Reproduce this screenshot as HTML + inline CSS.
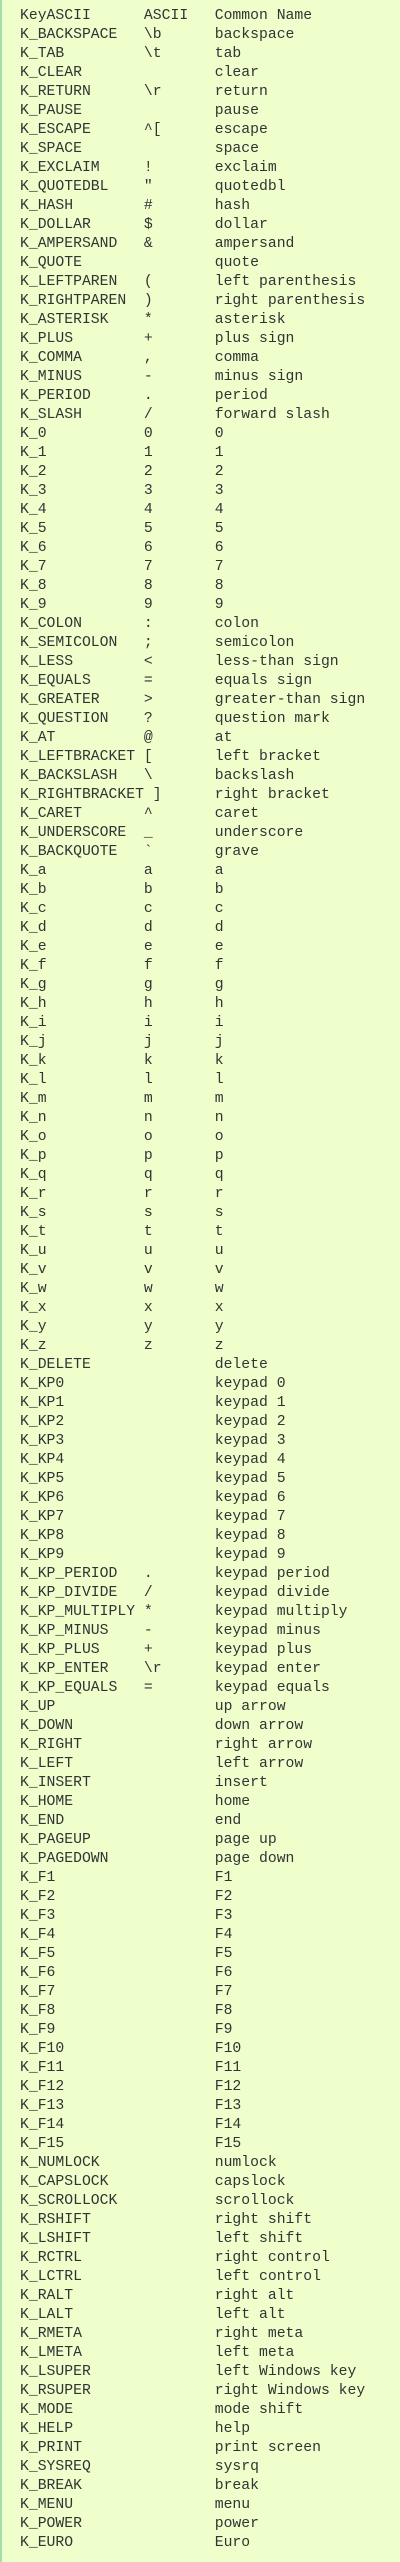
<!DOCTYPE html>
<html><head><meta charset="utf-8"><style>
html,body{margin:0;padding:0;background:#eeffcc;}
body{width:400px;height:2562px;overflow:hidden;position:relative;}
.bar{position:absolute;left:0;top:0;width:2px;height:2562px;background:#a8dca8;}
pre{margin:0;position:absolute;left:20px;top:6.5px;font-family:"Liberation Mono",monospace;font-size:14.75px;line-height:19px;color:#333;}
</style></head><body><div class="bar"></div><pre>KeyASCII      ASCII   Common Name
K_BACKSPACE   \b      backspace
K_TAB         \t      tab
K_CLEAR               clear
K_RETURN      \r      return
K_PAUSE               pause
K_ESCAPE      ^[      escape
K_SPACE               space
K_EXCLAIM     !       exclaim
K_QUOTEDBL    "       quotedbl
K_HASH        #       hash
K_DOLLAR      $       dollar
K_AMPERSAND   &amp;       ampersand
K_QUOTE               quote
K_LEFTPAREN   (       left parenthesis
K_RIGHTPAREN  )       right parenthesis
K_ASTERISK    *       asterisk
K_PLUS        +       plus sign
K_COMMA       ,       comma
K_MINUS       -       minus sign
K_PERIOD      .       period
K_SLASH       /       forward slash
K_0           0       0
K_1           1       1
K_2           2       2
K_3           3       3
K_4           4       4
K_5           5       5
K_6           6       6
K_7           7       7
K_8           8       8
K_9           9       9
K_COLON       :       colon
K_SEMICOLON   ;       semicolon
K_LESS        &lt;       less-than sign
K_EQUALS      =       equals sign
K_GREATER     &gt;       greater-than sign
K_QUESTION    ?       question mark
K_AT          @       at
K_LEFTBRACKET [       left bracket
K_BACKSLASH   \       backslash
K_RIGHTBRACKET ]      right bracket
K_CARET       ^       caret
K_UNDERSCORE  _       underscore
K_BACKQUOTE   `       grave
K_a           a       a
K_b           b       b
K_c           c       c
K_d           d       d
K_e           e       e
K_f           f       f
K_g           g       g
K_h           h       h
K_i           i       i
K_j           j       j
K_k           k       k
K_l           l       l
K_m           m       m
K_n           n       n
K_o           o       o
K_p           p       p
K_q           q       q
K_r           r       r
K_s           s       s
K_t           t       t
K_u           u       u
K_v           v       v
K_w           w       w
K_x           x       x
K_y           y       y
K_z           z       z
K_DELETE              delete
K_KP0                 keypad 0
K_KP1                 keypad 1
K_KP2                 keypad 2
K_KP3                 keypad 3
K_KP4                 keypad 4
K_KP5                 keypad 5
K_KP6                 keypad 6
K_KP7                 keypad 7
K_KP8                 keypad 8
K_KP9                 keypad 9
K_KP_PERIOD   .       keypad period
K_KP_DIVIDE   /       keypad divide
K_KP_MULTIPLY *       keypad multiply
K_KP_MINUS    -       keypad minus
K_KP_PLUS     +       keypad plus
K_KP_ENTER    \r      keypad enter
K_KP_EQUALS   =       keypad equals
K_UP                  up arrow
K_DOWN                down arrow
K_RIGHT               right arrow
K_LEFT                left arrow
K_INSERT              insert
K_HOME                home
K_END                 end
K_PAGEUP              page up
K_PAGEDOWN            page down
K_F1                  F1
K_F2                  F2
K_F3                  F3
K_F4                  F4
K_F5                  F5
K_F6                  F6
K_F7                  F7
K_F8                  F8
K_F9                  F9
K_F10                 F10
K_F11                 F11
K_F12                 F12
K_F13                 F13
K_F14                 F14
K_F15                 F15
K_NUMLOCK             numlock
K_CAPSLOCK            capslock
K_SCROLLOCK           scrollock
K_RSHIFT              right shift
K_LSHIFT              left shift
K_RCTRL               right control
K_LCTRL               left control
K_RALT                right alt
K_LALT                left alt
K_RMETA               right meta
K_LMETA               left meta
K_LSUPER              left Windows key
K_RSUPER              right Windows key
K_MODE                mode shift
K_HELP                help
K_PRINT               print screen
K_SYSREQ              sysrq
K_BREAK               break
K_MENU                menu
K_POWER               power
K_EURO                Euro</pre></body></html>
